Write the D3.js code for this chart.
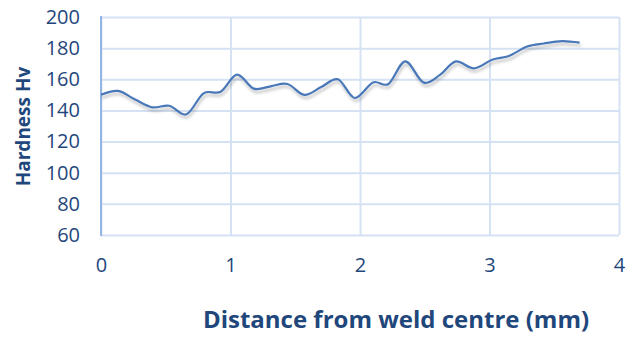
<!DOCTYPE html>
<html>
<head>
<meta charset="utf-8">
<script src="https://cdn.jsdelivr.net/npm/d3@7"></script>
<style>
  html, body { margin: 0; padding: 0; background: #fff; }
  svg { display: block; }
  text { font-family: "Open Sans", sans-serif; fill: #1f477b; }
</style>
</head>
<body>
<svg id="chart" width="637" height="339"></svg>
<script>
// Hardness profile across the weld
const distance = [0, 0.132, 0.264, 0.396, 0.528, 0.660, 0.792, 0.924, 1.050, 1.180,
                  1.310, 1.440, 1.570, 1.700, 1.830, 1.960, 2.100, 2.220, 2.350, 2.490,
                  2.620, 2.740, 2.880, 3.020, 3.150, 3.290, 3.420, 3.560, 3.696];
const hardness = [150, 152.5, 147, 142, 143, 137.5, 151, 152, 163, 154,
                  155.5, 157, 150, 155, 160, 148, 158, 157, 171.5, 158,
                  163, 171.5, 167, 172.5, 175, 181, 183, 184.5, 183.5];
const xTicks = [0, 1, 2, 3, 4];
const yTicks = [60, 80, 100, 120, 140, 160, 180, 200];

const svg = d3.select("#chart");
const plotLeft = 101, plotRight = 619, plotTop = 17, plotBottom = 235;

const x = d3.scaleLinear().domain([0, 4]).range([plotLeft, plotRight]);
const y = d3.scaleLinear().domain([60, 200]).range([plotBottom, plotTop]);

// soft shadow under the series line
const defs = svg.append("defs");
const f = defs.append("filter").attr("id", "shadow")
  .attr("x", "-5%").attr("y", "-20%").attr("width", "110%").attr("height", "160%");
f.append("feGaussianBlur").attr("in", "SourceAlpha").attr("stdDeviation", 1.8).attr("result", "b");
f.append("feOffset").attr("in", "b").attr("dx", 1).attr("dy", 3).attr("result", "o");
f.append("feComponentTransfer").attr("in", "o").attr("result", "s")
  .append("feFuncA").attr("type", "linear").attr("slope", 0.25);
const m = f.append("feMerge");
m.append("feMergeNode").attr("in", "s");
m.append("feMergeNode").attr("in", "SourceGraphic");

// horizontal gridlines
svg.append("g")
  .attr("transform", `translate(${plotLeft},0)`)
  .call(d3.axisLeft(y).tickValues(yTicks).tickSize(-(plotRight - plotLeft)).tickFormat(""))
  .call(g => g.select(".domain").remove())
  .call(g => g.selectAll("line").attr("stroke", "#d5e2f3").attr("stroke-width", 2));

// vertical gridlines
svg.append("g")
  .attr("transform", `translate(0,${plotBottom})`)
  .call(d3.axisBottom(x).tickValues(xTicks).tickSize(-(plotBottom - plotTop)).tickFormat(""))
  .call(g => g.select(".domain").remove())
  .call(g => g.selectAll("line").attr("stroke", "#d5e2f3").attr("stroke-width", 2));

// value axis line
svg.append("line")
  .attr("x1", x(0)).attr("x2", x(0)).attr("y1", y(200) - 1).attr("y2", y(60) + 1)
  .attr("stroke", "#93b6e3").attr("stroke-width", 2);

// y tick labels
svg.append("g")
  .attr("transform", `translate(${plotLeft},0)`)
  .call(d3.axisLeft(y).tickValues(yTicks).tickSize(0).tickPadding(21))
  .call(g => g.select(".domain").remove())
  .call(g => g.selectAll("text").style("font-size", "20px").attr("fill", "#1f477b"));

// x tick labels
svg.append("g")
  .attr("transform", `translate(0,${plotBottom})`)
  .call(d3.axisBottom(x).tickValues(xTicks).tickFormat(d3.format("d")).tickSize(0).tickPadding(23))
  .call(g => g.select(".domain").remove())
  .call(g => g.selectAll("text").style("font-size", "20px").attr("fill", "#1f477b"));

// series line
const line = d3.line()
  .x((d, i) => x(distance[i]))
  .y(d => y(d))
  .curve(d3.curveCatmullRom.alpha(0));
svg.append("path")
  .datum(hardness)
  .attr("d", line)
  .attr("fill", "none")
  .attr("stroke", "#4a78b8")
  .attr("stroke-width", 2.2)
  .attr("filter", "url(#shadow)");

// axis titles
svg.append("text")
  .attr("transform", "translate(30,126.5) rotate(-90)")
  .attr("text-anchor", "middle")
  .style("font-size", "19px").style("font-weight", "bold")
  .text("Hardness Hv");

svg.append("text")
  .attr("x", 396).attr("y", 328)
  .attr("text-anchor", "middle")
  .style("font-size", "24px").style("font-weight", "bold")
  .text("Distance from weld centre (mm)");
</script>
</body>
</html>
